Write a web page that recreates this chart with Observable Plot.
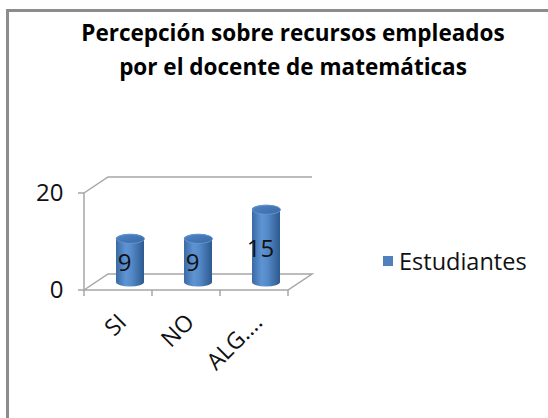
<!DOCTYPE html>
<html><head><meta charset="utf-8">
<script src="https://cdn.jsdelivr.net/npm/d3@7"></script>
<script src="https://cdn.jsdelivr.net/npm/@observablehq/plot@0.6"></script>
<style>
body{margin:0;background:#fff;}
#wrap{position:relative;width:548px;height:418px;overflow:hidden;font-family:"Open Sans",sans-serif;color:#111;}
#frame{position:absolute;left:6px;top:9px;width:600px;height:600px;border:3px solid #8c8c8c;box-sizing:border-box;}
#title{position:absolute;left:0;width:586px;top:16px;text-align:center;font-weight:bold;font-size:22.5px;line-height:34px;color:#000;}
#chart{position:absolute;left:0;top:0;}
#legend{position:absolute;left:383px;top:245px;display:flex;align-items:center;font-size:23.5px;}
#legend .sw{width:10px;height:10px;background:#4F81BD;margin-right:6px;}
</style></head>
<body>
<div id="wrap">
  <div id="frame"></div>
  <div id="chart"></div>
  <div id="title">Percepción sobre recursos empleados<br>por el docente de matemáticas</div>
  <div id="legend"><span class="sw"></span><span id="legendText"></span></div>
</div>
<script>
const categories = ["SI", "NO", "ALG…."];
const values = [9, 9, 15];
const seriesName = "Estudiantes";
const yTicks = [0, 20];
const yDomain = [0, 20];

const data = categories.map((c, i) => ({cat: c, value: values[i]}));
document.getElementById("legendText").textContent = seriesName;

const DX = 24, DY = -16;
const wallColor = "#a6a6a6";

const defs = () => {
  const d = d3.create("svg:defs");
  const g = d.append("linearGradient").attr("id", "cyl").attr("x1", 0).attr("x2", 1).attr("y1", 0).attr("y2", 0);
  [[0, "#3b6aa3"], [0.35, "#5f94d4"], [0.55, "#5589c8"], [1, "#2d5a8f"]].forEach(([o, c]) =>
    g.append("stop").attr("offset", o).attr("stop-color", c));
  const t = d.append("linearGradient").attr("id", "cap").attr("x1", 0).attr("x2", 1).attr("y1", 0).attr("y2", 1);
  [[0, "#4f84c6"], [1, "#3a69a5"]].forEach(([o, c]) =>
    t.append("stop").attr("offset", o).attr("stop-color", c));
  return d.node();
};

const walls = (index, scales, vals, dims) => {
  const x0 = dims.marginLeft, x1 = dims.width - dims.marginRight;
  const yA = scales.y(yDomain[0]), yB = scales.y(yDomain[1]);
  const g = d3.create("svg:g").attr("fill", "none").attr("stroke", wallColor).attr("stroke-width", 1.5);
  const line = d3.line();
  const paths = [
    [[x0, yA], [x1, yA], [x1 + DX, yA + DY], [x0 + DX, yA + DY], [x0, yA]],
    [[x0, yB], [x0 + DX, yB + DY], [x1 + DX, yB + DY]],
    [[x0, yA], [x0, yB]]
  ];
  for (const p of paths) g.append("path").attr("d", line(p));
  for (const t of yTicks) g.append("path").attr("d", line([[x0 - 6, scales.y(t)], [x0, scales.y(t)]]));
  const n = categories.length;
  for (let i = 0; i <= n; i++) {
    const x = x0 + (x1 - x0) * i / n;
    g.append("path").attr("d", line([[x, yA], [x, yA + 6]]));
  }
  return g.node();
};

const ellipse = {
  draw(ctx) {
    const a = 14, b = 4.5, k = 0.5523;
    ctx.moveTo(a, 0);
    ctx.bezierCurveTo(a, b * k, a * k, b, 0, b);
    ctx.bezierCurveTo(-a * k, b, -a, b * k, -a, 0);
    ctx.bezierCurveTo(-a, -b * k, -a * k, -b, 0, -b);
    ctx.bezierCurveTo(a * k, -b, a, -b * k, a, 0);
    ctx.closePath();
  }
};

const chart = Plot.plot({
  width: 548,
  height: 418,
  marginLeft: 84,
  marginRight: 260,
  marginTop: 193,
  marginBottom: 128,
  style: {fontFamily: "Open Sans, sans-serif", color: "#111", background: "transparent"},
  x: {type: "band", domain: categories, padding: 0, label: null},
  y: {domain: yDomain, label: null},
  marks: [
    defs,
    walls,
    Plot.barY(data, {x: "cat", y: "value", fill: "url(#cyl)", insetLeft: 20, insetRight: 20,
      insetTop: -4.5, insetBottom: -4.5, rx: 14, ry: 4.5, dx: 12, dy: -8}),
    Plot.dot(data, {x: "cat", y: "value", symbol: ellipse, fill: "url(#cap)", stroke: "#6a9ad6", strokeWidth: 0.8, dx: 12, dy: -8}),
    Plot.text(data, {x: "cat", y: d => d.value / 2, text: d => String(d.value), fontSize: 24, dx: 6, dy: -5, fill: "#111"}),
    Plot.axisY({ticks: yTicks, tickSize: 0, tickPadding: 21, fontSize: 24, label: null}),
    Plot.axisX({tickSize: 0, tickRotate: -45, tickPadding: 28, dx: 4, fontSize: 23, label: null})
  ]
});
document.getElementById("chart").appendChild(chart);
</script>
</body></html>
